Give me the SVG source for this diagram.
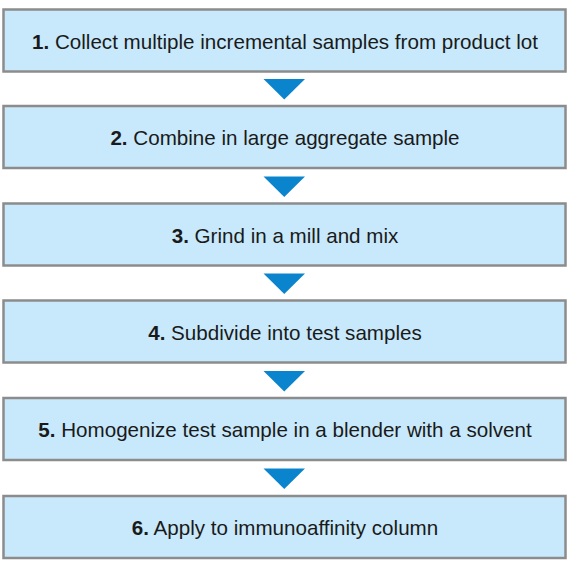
<svg xmlns="http://www.w3.org/2000/svg" width="570" height="574" viewBox="0 0 570 574">
<style>
.box{fill:#c8e9fb;stroke:#8c8c8c;stroke-width:2.5}
.t{font-family:"Liberation Sans",Arial,sans-serif;font-size:20.6px;fill:#1a1a1a;text-anchor:middle}
.b{font-weight:bold}
.arr{fill:#0a85cd}
</style>
<rect width="570" height="574" fill="#ffffff"/>
<g id="step1"><rect class="box" x="3.5" y="9.5" width="562" height="62"/><text class="t" x="285" y="48.5"><tspan class="b">1.</tspan> Collect multiple incremental samples from product lot</text></g>
<g id="step2"><rect class="box" x="3.5" y="106" width="562" height="62"/><text class="t" x="285" y="145"><tspan class="b">2.</tspan> Combine in large aggregate sample</text></g>
<g id="step3"><rect class="box" x="3.5" y="203.5" width="562" height="62"/><text class="t" x="285" y="242.5"><tspan class="b">3.</tspan> Grind in a mill and mix</text></g>
<g id="step4"><rect class="box" x="3.5" y="300.5" width="562" height="62"/><text class="t" x="285" y="339.5"><tspan class="b">4.</tspan> Subdivide into test samples</text></g>
<g id="step5"><rect class="box" x="3.5" y="398" width="562" height="62"/><text class="t" x="285" y="437"><tspan class="b">5.</tspan> Homogenize test sample in a blender with a solvent</text></g>
<g id="step6"><rect class="box" x="3.5" y="496" width="562" height="62"/><text class="t" x="285" y="535"><tspan class="b">6.</tspan> Apply to immunoaffinity column</text></g>
<g id="connectors">
<polygon class="arr" points="263.5,79 305,79 284.25,99.5"/>
<polygon class="arr" points="263.5,176.5 305,176.5 284.25,197"/>
<polygon class="arr" points="263.5,273.5 305,273.5 284.25,294"/>
<polygon class="arr" points="263.5,371 305,371 284.25,391.5"/>
<polygon class="arr" points="263.5,468.5 305,468.5 284.25,489"/>
</g>
</svg>
